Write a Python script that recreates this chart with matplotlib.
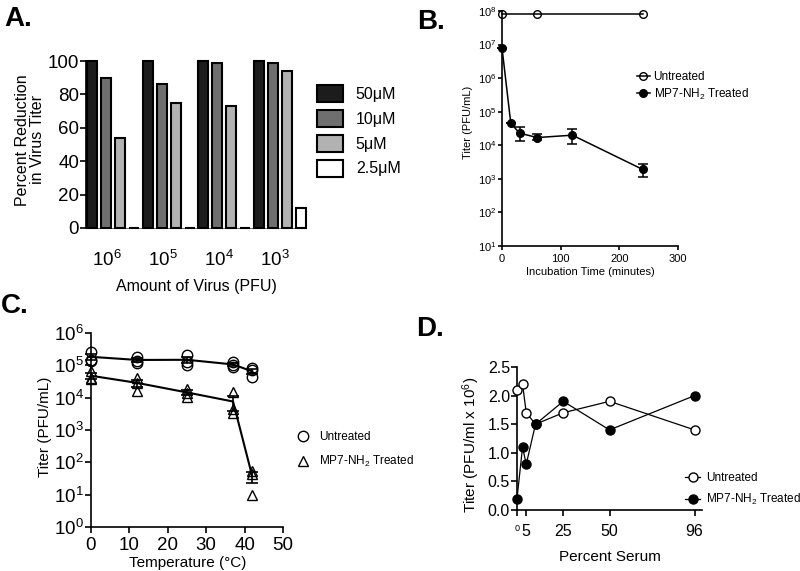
import numpy as np
import matplotlib
matplotlib.use('Agg')
import matplotlib.pyplot as plt
import matplotlib.ticker as ticker
from matplotlib.patches import Patch
from matplotlib.lines import Line2D

plt.rcParams['font.family'] = ['Liberation Sans', 'DejaVu Sans']
plt.rcParams['mathtext.fontset'] = 'custom'
plt.rcParams['mathtext.rm'] = 'Liberation Sans'
plt.rcParams['mathtext.it'] = 'Liberation Sans:italic'
plt.rcParams['mathtext.bf'] = 'Liberation Sans:bold'
plt.rcParams['mathtext.default'] = 'regular'
plt.rcParams['axes.linewidth'] = 1.2
plt.rcParams['xtick.major.width'] = 1.2
plt.rcParams['ytick.major.width'] = 1.2

# ---- panel A data ----
virus_amounts = ['$10^6$', '$10^5$', '$10^4$', '$10^3$']
conc_labels = ['50\u03bcM', '10\u03bcM', '5\u03bcM', '2.5\u03bcM']
conc_colors = ['#1c1c1c', '#6f6f6f', '#b2b2b2', '#ffffff']
red_50 = [100, 100, 100, 100]
red_10 = [90, 86, 99, 99]
red_5 = [54, 75, 73, 94]
red_2_5 = [0, 0, 0, 12]

# ---- panel B data ----
time_untreated = [0, 60, 240]
titer_untreated_b = [8e7, 8e7, 8e7]
time_treated = [0, 15, 30, 60, 120, 240]
titer_treated_b = [8e6, 4.5e4, 2.3e4, 1.7e4, 2.0e4, 1.9e3]
titer_treated_lo = [8e6, 4.5e4, 1.3e4, 1.4e4, 1.1e4, 1.1e3]
titer_treated_hi = [8e6, 4.5e4, 3.5e4, 2.2e4, 3.1e4, 2.8e3]

# ---- panel C data (three replicates per temperature) ----
temps = [0, 12, 25, 37, 42]
untreated_c_rep1 = [2.6e5, 1.8e5, 2.1e5, 1.25e5, 8e4]
untreated_c_rep2 = [1.5e5, 1.4e5, 1.3e5, 1.05e5, 7e4]
untreated_c_rep3 = [1.4e5, 1.2e5, 1.05e5, 9e4, 4.5e4]
treated_c_rep1 = [6.5e4, 4.2e4, 1.9e4, 1.5e4, 55]
treated_c_rep2 = [4.0e4, 2.8e4, 1.4e4, 4.5e3, 45]
treated_c_rep3 = [3.8e4, 1.6e4, 1.05e4, 3.3e3, 10]

# ---- panel D data ----
serum = [0, 3, 5, 10, 25, 50, 96]
titer_untreated_d = [2.1, 2.2, 1.7, 1.5, 1.7, 1.9, 1.4]
titer_treated_d = [0.2, 1.1, 0.8, 1.5, 1.9, 1.4, 2.0]
serum_ticks = [0, 5, 25, 50, 96]

W, H = 800, 571
fig = plt.figure(figsize=(8, 5.71), dpi=100)


def px_axes(l, t, r, b):
    return fig.add_axes([l / W, 1 - b / H, (r - l) / W, (b - t) / H])


def ftext(x, y, s, **kw):
    fig.text(x / W, 1 - y / H, s, **kw)


def clean(ax):
    ax.spines['top'].set_visible(False)
    ax.spines['right'].set_visible(False)


# ================= A =================
axA = px_axes(86, 61, 306, 228)
clean(axA)
axA.spines['bottom'].set_linewidth(0.6)
axA.spines['bottom'].set_color('#555555')
series_a = [red_50, red_10, red_5, red_2_5]
for k, vals in enumerate(series_a):
    xs = [4 * g + k for g in range(len(virus_amounts))]
    axA.bar(xs, vals, width=0.72, color=conc_colors[k], edgecolor='black',
            linewidth=1.5, clip_on=False, zorder=3)
axA.set_xlim(-0.43, 15.36)
axA.set_ylim(0, 100)
axA.set_yticks([0, 20, 40, 60, 80, 100])
axA.set_xticks([4 * g + 1.1 for g in range(len(virus_amounts))])
axA.set_xticklabels(virus_amounts)
axA.tick_params(axis='x', length=0, pad=16, labelsize=13.5)
axA.tick_params(axis='y', length=4, pad=1, labelsize=13.5)
ftext(30, 140, 'Percent Reduction\nin Virus Titer', rotation=90, ha='center',
      va='center', fontsize=11.5, linespacing=1.0)
ftext(196, 287, 'Amount of Virus (PFU)', ha='center', va='center', fontsize=11.5)
handles_a = [Patch(facecolor=c, edgecolor='black', linewidth=1.5) for c in conc_colors]
fig.legend(handles_a, conc_labels, loc='upper left', bbox_to_anchor=(317 / W, 1 - 85 / H),
           frameon=False, fontsize=11.5, handlelength=1.63, handleheight=1.25,
           labelspacing=0.5, handletextpad=0.8, borderpad=0, borderaxespad=0)
ftext(4, 6, 'A.', fontsize=20, fontweight='bold', ha='left', va='top')

# ================= B =================
axB = px_axes(502, 11, 678, 246)
clean(axB)
axB.set_yscale('log')
axB.plot(time_untreated, titer_untreated_b, '-o', color='black', mfc='none', mec='black',
         ms=5.5, lw=1.1, clip_on=False, zorder=4, label='Untreated')
tb = np.array(titer_treated_b)
yerr_b = [tb - np.array(titer_treated_lo), np.array(titer_treated_hi) - tb]
axB.errorbar(time_treated, titer_treated_b, yerr=yerr_b, fmt='-o', color='black',
             ms=5.5, lw=1.1, capsize=3.5, elinewidth=1.1, capthick=1.1, clip_on=False,
             zorder=4, label='MP7-NH$_2$ Treated')
axB.set_xlim(0, 300)
axB.set_ylim(1e1, 1e8)
axB.set_xticks([0, 100, 200, 300])
axB.yaxis.set_major_locator(ticker.LogLocator(base=10, numticks=10))
axB.yaxis.set_minor_locator(ticker.NullLocator())
axB.tick_params(length=3, pad=1, labelsize=8)
axB.tick_params(axis='x', pad=3)
ftext(468, 122, 'Titer (PFU/mL)', rotation=90, ha='center', va='center', fontsize=8)
ftext(590, 272, 'Incubation Time (minutes)', ha='center', va='center', fontsize=8)
handles_b = [Line2D([], [], color='black', marker='o', mfc='none', ms=5.5, lw=1.1),
             Line2D([], [], color='black', marker='o', ms=5.5, lw=1.1)]
fig.legend(handles_b, ['Untreated', 'MP7-NH$_2$ Treated'], loc='center left',
           bbox_to_anchor=(637 / W, 1 - 86.5 / H), frameon=False, fontsize=8.5,
           handlelength=1.1, handletextpad=0.3, labelspacing=0.25, borderpad=0,
           borderaxespad=0)
ftext(417, 9, 'B.', fontsize=20, fontweight='bold', ha='left', va='top')

# ================= C =================
axC = px_axes(91, 333, 283, 527)
clean(axC)
axC.set_yscale('log')
unt = np.array([untreated_c_rep1, untreated_c_rep2, untreated_c_rep3])
trt = np.array([treated_c_rep1, treated_c_rep2, treated_c_rep3])
for reps, mk in [(unt, 'o'), (trt, '^')]:
    mean = reps.mean(axis=0)
    sem = reps.std(axis=0, ddof=1) / np.sqrt(reps.shape[0])
    axC.errorbar(temps, mean, yerr=sem, fmt='-', color='black', lw=1.5,
                 capsize=4, elinewidth=1.2, capthick=1.2, clip_on=False, zorder=3)
    for r in reps:
        axC.plot(temps, r, ls='none', marker=mk, mfc='none', mec='black', ms=7.5,
                 mew=1.0, clip_on=False, zorder=4)
axC.set_xlim(0, 50)
axC.set_ylim(1e0, 1e6)
axC.set_xticks([0, 10, 20, 30, 40, 50])
axC.yaxis.set_major_locator(ticker.LogLocator(base=10, numticks=10))
axC.yaxis.set_minor_locator(ticker.NullLocator())
axC.tick_params(length=4, pad=1, labelsize=13.5)
axC.tick_params(axis='x', pad=3)
ftext(45, 427, 'Titer (PFU/mL)', rotation=90, ha='center', va='center', fontsize=11)
ftext(188, 563, 'Temperature (\u00b0C)', ha='center', va='center', fontsize=11)
handles_c = [Line2D([], [], ls='none', color='black', marker='o', mfc='none', ms=7.5),
             Line2D([], [], ls='none', color='black', marker='^', mfc='none', ms=7.5)]
fig.legend(handles_c, ['Untreated', 'MP7-NH$_2$ Treated'], loc='center left',
           bbox_to_anchor=(297 / W, 1 - 450 / H), frameon=False, fontsize=8.5,
           handlelength=1.0, handletextpad=0.9, labelspacing=0.9, borderpad=0,
           borderaxespad=0)
ftext(1, 293, 'C.', fontsize=20, fontweight='bold', ha='left', va='top')

# ================= D =================
axD = px_axes(517, 367, 702, 510)
clean(axD)
axD.plot(serum, titer_untreated_d, '-o', color='black', mfc='white', mec='black',
         ms=6.5, lw=0.9, clip_on=False, zorder=3)
axD.plot(serum, titer_treated_d, '-o', color='black', ms=6.5, lw=0.9,
         clip_on=False, zorder=4)
axD.set_xlim(0, 100)
axD.set_ylim(0, 2.5)
axD.set_yticks([0, 0.5, 1.0, 1.5, 2.0, 2.5])
axD.yaxis.set_major_formatter(ticker.FormatStrFormatter('%.1f'))
axD.set_xticks(serum_ticks)
axD.set_xticklabels([str(s) for s in serum_ticks])
axD.tick_params(length=4, pad=1, labelsize=11.5)
axD.tick_params(axis='x', pad=6)
axD.get_xticklabels()[0].set_fontsize(6.5)
ftext(471, 445, 'Titer (PFU/ml x 10$^6$)', rotation=90, ha='center', va='center',
      fontsize=11)
ftext(610, 557, 'Percent Serum', ha='center', va='center', fontsize=11)
handles_d = [Line2D([], [], color='black', marker='o', mfc='white', ms=6.5, lw=0.9),
             Line2D([], [], color='black', marker='o', ms=6.5, lw=0.9)]
fig.legend(handles_d, ['Untreated', 'MP7-NH$_2$ Treated'], loc='center left',
           bbox_to_anchor=(685 / W, 1 - 489.5 / H), frameon=False, fontsize=8.5,
           handlelength=1.3, handletextpad=0.5, labelspacing=0.7, borderpad=0,
           borderaxespad=0)
ftext(416, 316, 'D.', fontsize=20, fontweight='bold', ha='left', va='top')

fig.savefig('out.png', dpi=100)
